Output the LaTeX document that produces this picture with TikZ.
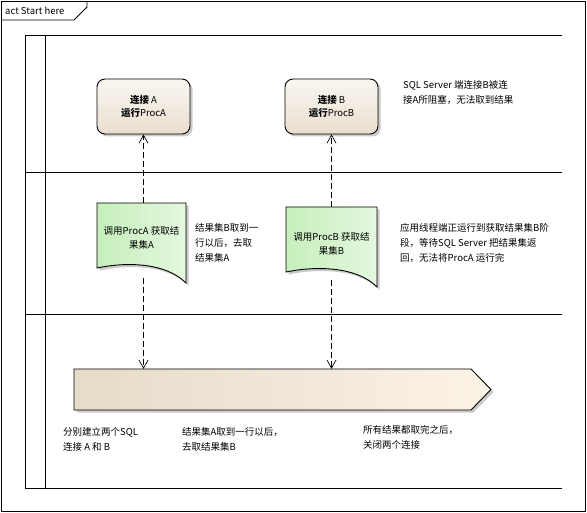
\documentclass[tikz,border=0pt]{standalone}
\usepackage{fontspec}
\setmainfont{Noto Sans CJK SC}
\usetikzlibrary{shadows,arrows.meta}
\definecolor{actTop}{HTML}{F9F6F1}
\definecolor{actBot}{HTML}{E9DFCF}
\definecolor{docL}{HTML}{C6EEBC}
\definecolor{docR}{HTML}{E4F8DE}
\definecolor{barL}{HTML}{E6DBC9}
\definecolor{barR}{HTML}{FCF3E7}
\tikzset{
  txt/.style={font=\fontsize{9.5}{15}\selectfont, inner sep=0pt, align=left, anchor=north west},
  ctxt/.style={font=\fontsize{9.5}{14}\selectfont, inner sep=0pt, align=center},
  frameline/.style={draw=black, line width=0.9pt},
  shadowed/.style={drop shadow={shadow xshift=2.5pt, shadow yshift=-2.5pt, opacity=0.35, fill=black!60}},
  actbox/.style={draw=black, line width=0.9pt, rounded corners=8pt, top color=actTop, bottom color=actBot, shadowed, minimum width=93pt, minimum height=55pt, inner sep=0pt, font=\fontsize{9.5}{13}\selectfont, align=center},
  docfill/.style={draw=black, line width=0.9pt, left color=docL, right color=docR, shadowed},
  flow/.style={draw=black, line width=0.7pt, dash pattern=on 6pt off 3pt, -{Straight Barb[length=8pt,width=9pt,line width=0.7pt]}},
}
\begin{document}
\begin{tikzpicture}[x=1pt,y=-1pt]
\useasboundingbox (0,0) rectangle (587,513);
% outer frame
\draw[frameline] (1,1) rectangle (585.5,511.5);
\draw[frameline] (1,20) -- (74,20) -- (87,7) -- (87,1);
\node[txt, anchor=west, font=\fontsize{9.5}{11}\selectfont] (title) at (5,10.5) {act Start here};
% pool
\draw[frameline] (25,35) -- (562,35);
\draw[frameline] (25,172) -- (562,172);
\draw[frameline] (25,314) -- (562,314);
\draw[frameline] (25,488) -- (562,488);
\draw[frameline] (25,35) -- (25,488);
\draw[frameline] (45,35) -- (45,488);
% activities
\node[actbox] (actA) at (143.5,106.5) {\textbf{连接} A\\\textbf{运行}ProcA};
\node[actbox] (actB) at (331.5,106.5) {\textbf{连接} B\\\textbf{运行}ProcB};
% documents
\path[docfill] (97,203) -- (186,203) -- (186,283) .. controls (165,262) and (125,262) .. (97,268) -- cycle;
\path[docfill] (286,207) -- (377,207) -- (377,287) .. controls (356,266) and (315,266) .. (286,272) -- cycle;
\node[ctxt, minimum width=89pt, minimum height=75pt, anchor=north] (docA) at (141.5,203) {};
\node[ctxt, minimum width=91pt, minimum height=73pt, anchor=north] (docB) at (331.5,207) {};
\node[ctxt] (docAt) at (141.5,237.5) {调用ProcA 获取结\\果集A};
\node[ctxt] (docBt) at (331.5,243.5) {调用ProcB 获取结\\果集B};
% bar
\path[draw=black, line width=0.9pt, left color=barL, right color=barR, shadowed] (74,369) -- (471,369) -- (491,389.5) -- (471,410) -- (74,410) -- cycle;
\node[inner sep=0pt, minimum width=417pt, minimum height=41pt] (bar) at (282.5,389.5) {};
% flows
\draw[flow] (docA.north -| actA) -- (actA.south);
\draw[flow] (docB.north -| actB) -- (actB.south);
\draw[flow] (docA.south -| actA) -- (bar.north -| actA);
\draw[flow] (docB.south -| actB) -- (bar.north -| actB);
% notes
\node[txt] (n1) at (403,80.5) {SQL Server 端连接B被连\\接A所阻塞，无法取到结果};
\node[txt] (n2) at (195,223.5) {结果集B取到一\\行以后，去取\\结果集A};
\node[txt] (n3) at (400,223.5) {应用线程端正运行到获取结果集B阶\\段，等待SQL Server 把结果集返\\回，无法将ProcA 运行完};
\node[txt] (n4) at (63,427.5) {分别建立两个SQL\\连接 A 和 B};
\node[txt] (n5) at (182,427.5) {结果集A取到一行以后，\\去取结果集B};
\node[txt] (n6) at (363,425.5) {所有结果都取完之后，\\关闭两个连接};
\end{tikzpicture}
\end{document}
